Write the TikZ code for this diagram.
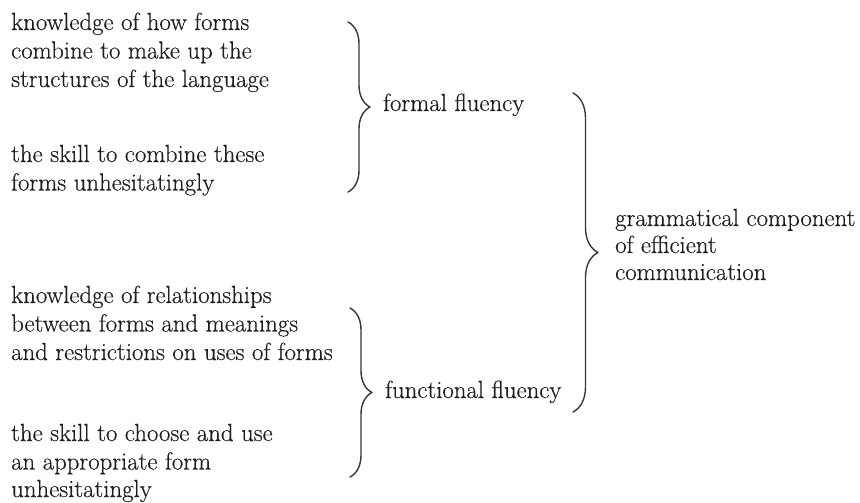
\documentclass[tikz,border=0pt]{standalone}
\usepackage{fontspec}
\setmainfont{Latin Modern Roman}[FakeBold=0.35]
\usetikzlibrary{decorations.pathreplacing}
\definecolor{ink}{HTML}{1E1E1E}
\definecolor{braceink}{HTML}{383838}
\begin{document}
\begin{tikzpicture}[x=1pt,y=-1pt,
  txt/.style={anchor=base west,inner sep=0pt,text=ink,font=\fontsize{24.8}{28.5}\selectfont},
  bracedraw/.style={draw=braceink,line width=1.4pt,line cap=round,line join=round,
     decorate,decoration={brace,amplitude=#1,aspect=0.5}}]
\useasboundingbox (0,0) rectangle (860,503);
% block 1
\node[txt] (a1) at (11,30) {knowledge of how forms};
\node[txt] (a2) at (11,58.5) {combine to make up the};
\node[txt] (a3) at (11,87) {structures of the language};
% block 2
\node[txt] (b1) at (11,162) {the skill to combine these};
\node[txt] (b2) at (11,190.5) {forms unhesitatingly};
% block 3
\node[txt] (c1) at (11,303) {knowledge of relationships};
\node[txt] (c2) at (11,331.5) {between forms and meanings};
\node[txt] (c3) at (11,360) {and restrictions on uses of forms};
% block 4
\node[txt] (d1) at (11,441) {the skill to choose and use};
\node[txt] (d2) at (11,469.5) {an appropriate form};
\node[txt] (d3) at (11,497) {unhesitatingly};
% middle labels
\node[txt] (formal) at (383,111) {formal fluency};
\node[txt] (functional) at (385,398) {functional fluency};
% right label
\node[txt] (g1) at (615,226) {grammatical component};
\node[txt] (g2) at (615,253) {of efficient};
\node[txt] (g3) at (615,280) {communication};
% braces
\coordinate (f1top) at (348,22);
\coordinate (f1bot) at (348,192);
\coordinate (f2top) at (350,308);
\coordinate (f2bot) at (350,477);
\coordinate (gtop) at (573,93);
\coordinate (gbot) at (573,412);
\draw[bracedraw=22] (f1top) -- (f1bot);
\draw[bracedraw=22] (f2top) -- (f2bot);
\draw[bracedraw=25] (gtop) -- (gbot);
\end{tikzpicture}
\end{document}
